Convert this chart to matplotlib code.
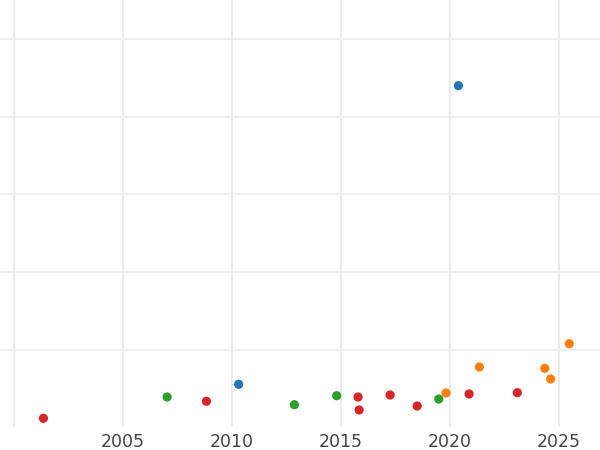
import matplotlib
matplotlib.use("Agg")
import matplotlib.pyplot as plt

# Data
red_x = [2001.36, 2008.83, 2015.78, 2015.83, 2017.25, 2018.49, 2020.87, 2023.08]
red_y = [11.5, 33.4, 38.9, 22.2, 41.5, 27.3, 42.8, 44.5]
green_x = [2007.03, 2012.86, 2014.80, 2019.48]
green_y = [38.9, 29.0, 40.6, 36.3]
blue_x = [2010.31, 2020.38]
blue_y = [55.3, 440.1]
orange_x = [2019.81, 2021.34, 2024.34, 2024.61, 2025.46]
orange_y = [44.1, 77.6, 75.9, 62.1, 107.6]

x_ticks = [2000, 2005, 2010, 2015, 2020, 2025]
x_labels = ["", "2005", "2010", "2015", "2020", "2025"]
y_grid = [100, 200, 300, 400, 500]

fig = plt.figure(figsize=(6, 4.5), dpi=100)
ax = fig.add_axes([0, 22.8 / 450, 1, 427.2 / 450])

series = [
    (blue_x, blue_y, "#1f77b4"),
    (orange_x, orange_y, "#ff7f0e"),
    (green_x, green_y, "#2ca02c"),
    (red_x, red_y, "#d62728"),
]
for xs, ys, c in series:
    ax.scatter(xs, ys, s=44, color=c, edgecolors="none", zorder=3)

ax.set_xlim(1999.37, 2026.87)
ax.set_ylim(0, 550.5)

ax.set_xticks(x_ticks)
ax.set_xticklabels(x_labels)
ax.set_yticks(y_grid)
ax.set_yticklabels([])
ax.tick_params(axis="both", length=0)
ax.tick_params(axis="x", pad=4.5, labelsize=12.5, labelcolor="#444444")

for x in x_ticks:
    ax.axvline(x, color="#ebebeb", lw=1.5, zorder=1)
for y in y_grid:
    ax.axhline(y, color="#ebebeb", lw=1.1, zorder=1)

for s in ax.spines.values():
    s.set_visible(False)

fig.savefig("out.png", dpi=100)
